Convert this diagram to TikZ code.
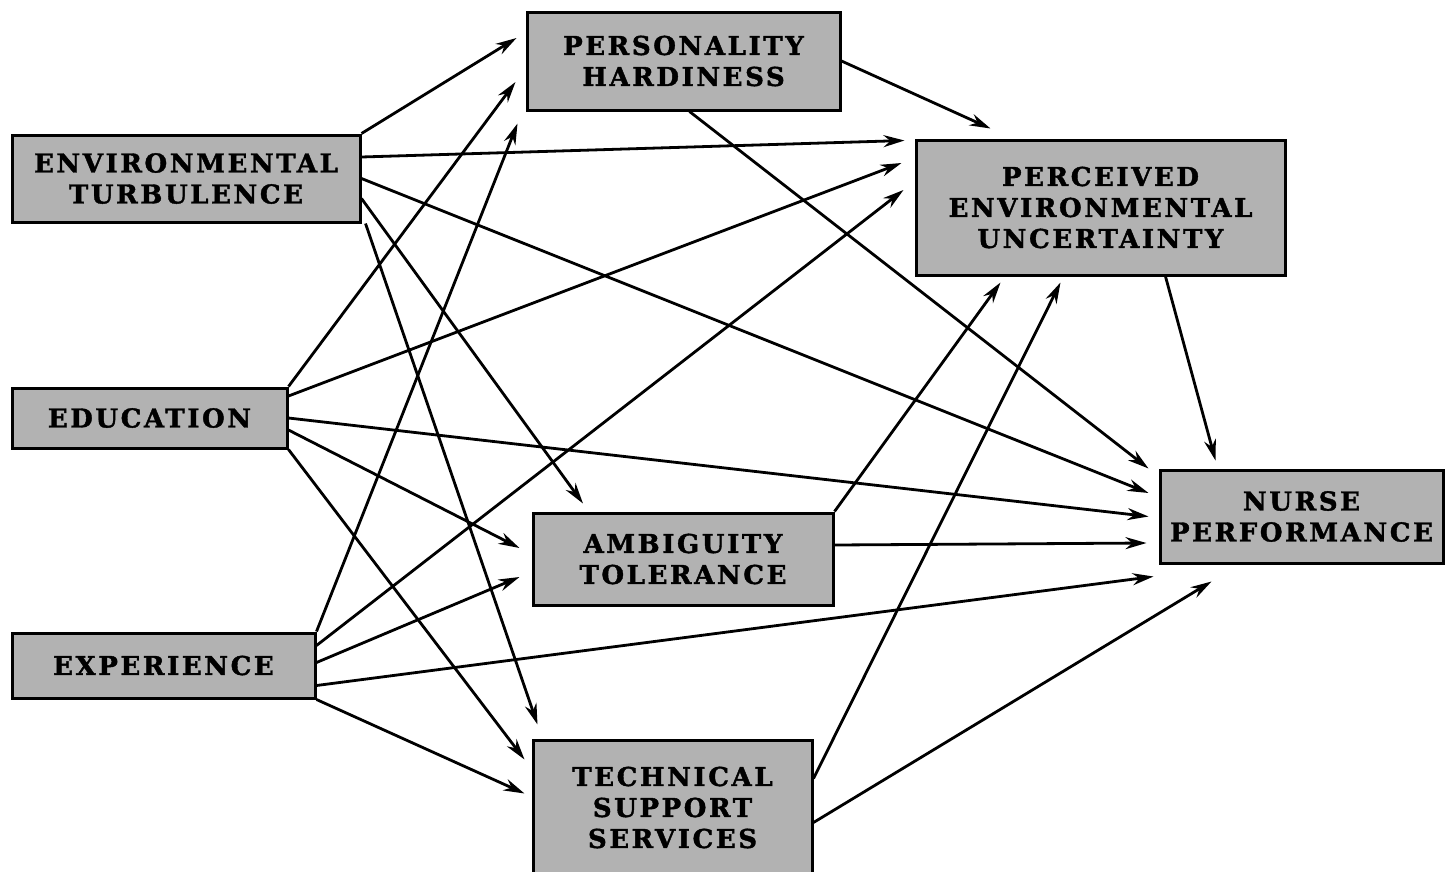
\documentclass[tikz,border=0pt]{standalone}
\usepackage{fontspec}
\newfontfamily\boxfont{DejaVu Serif}[LetterSpace=10,FakeBold=1.5]
\usetikzlibrary{arrows.meta,calc}
\begin{document}
\begin{tikzpicture}[x=1pt,y=-1pt,
  box/.style={draw=black,line width=3pt,fill=black!30,rectangle,inner sep=0pt,
    align=center,font=\boxfont\bfseries\fontsize{26}{31}\selectfont},
  arr/.style={line width=2.8pt,-{Stealth[length=21pt,width=12pt]}}]
\clip (0,0) rectangle (1448,871);
\node[box,minimum width=348pt,minimum height=87pt] (ET) at (186,178.5) {ENVIRONMENTAL\\TURBULENCE};
\node[box,minimum width=275pt,minimum height=60pt] (ED) at (149.5,418) {EDUCATION};
\node[box,minimum width=303pt,minimum height=65pt] (EX) at (163.5,665.5) {EXPERIENCE};
\node[box,minimum width=313pt,minimum height=98pt] (PH) at (683.5,61) {PERSONALITY\\HARDINESS};
\node[box,minimum width=369pt,minimum height=135pt] (PEU) at (1100.5,207.5) {PERCEIVED\\ENVIRONMENTAL\\UNCERTAINTY};
\node[box,minimum width=300pt,minimum height=92pt] (AT) at (683,559) {AMBIGUITY\\TOLERANCE};
\node[box,minimum width=279pt,minimum height=135pt] (TSS) at (672.5,807.5) {TECHNICAL\\SUPPORT\\SERVICES};
\node[box,minimum width=283pt,minimum height=93pt] (NP) at (1301.5,516.5) {NURSE\\PERFORMANCE};
% Environmental turbulence
\draw[arr] (ET.north east) -- ($(PH.west)+(-9,-23)$);
\draw[arr] ($(ET.east)+(0,-21.5)$) -- ($(PEU.west)+(-10,-67)$);
\draw[arr] (ET.east) -- ($(NP.west)+(-10,-23.5)$);
\draw[arr] ($(ET.east)+(0,20)$) -- ($(AT.north)+(-100,-8)$);
\draw[arr] ($(ET.south east)+(4,0)$) -- ($(TSS.north)+(-135,-14)$);
% Education
\draw[arr] (ED.north east) -- ($(PH.west)+(-10,21)$);
\draw[arr] ($(ED.east)+(0,-22)$) -- ($(PEU.west)+(-13,-44.5)$);
\draw[arr] (ED.east) -- ($(NP.west)+(-10,0)$);
\draw[arr] ($(ED.east)+(0,12)$) -- ($(AT.west)+(-12,-11)$);
\draw[arr] (ED.south east) -- ($(TSS.west)+(-7,-48)$);
% Experience
\draw[arr] (EX.north east) -- ($(PH.south west)+(-8,12)$);
\draw[arr] ($(EX.east)+(0,-20)$) -- ($(PEU.west)+(-11,-17.5)$);
\draw[arr] ($(EX.east)+(0,-3)$) -- ($(AT.west)+(-12,18)$);
\draw[arr] ($(EX.east)+(0,20)$) -- ($(NP.south west)+(-5,12)$);
\draw[arr] (EX.south east) -- ($(TSS.west)+(-7,-14)$);
% Personality hardiness
\draw[arr] (PH.east) -- ($(PEU.north)+(-110,-10)$);
\draw[arr] ($(PH.south)+(6,0)$) -- ($(NP.north west)+(-10,0)$);
% Ambiguity tolerance
\draw[arr] (AT.north east) -- ($(PEU.south)+(-100,6)$);
\draw[arr] ($(AT.east)+(0,-14)$) -- ($(NP.west)+(-12,26.5)$);
% Technical support services
\draw[arr] ($(TSS.east)+(0,-29)$) -- ($(PEU.south)+(-40,6)$);
\draw[arr] ($(TSS.east)+(0,15)$) -- ($(NP.south)+(-90,17)$);
% Perceived environmental uncertainty
\draw[arr] ($(PEU.south)+(65,0)$) -- ($(NP.north)+(-86,-8)$);
\end{tikzpicture}
\end{document}
